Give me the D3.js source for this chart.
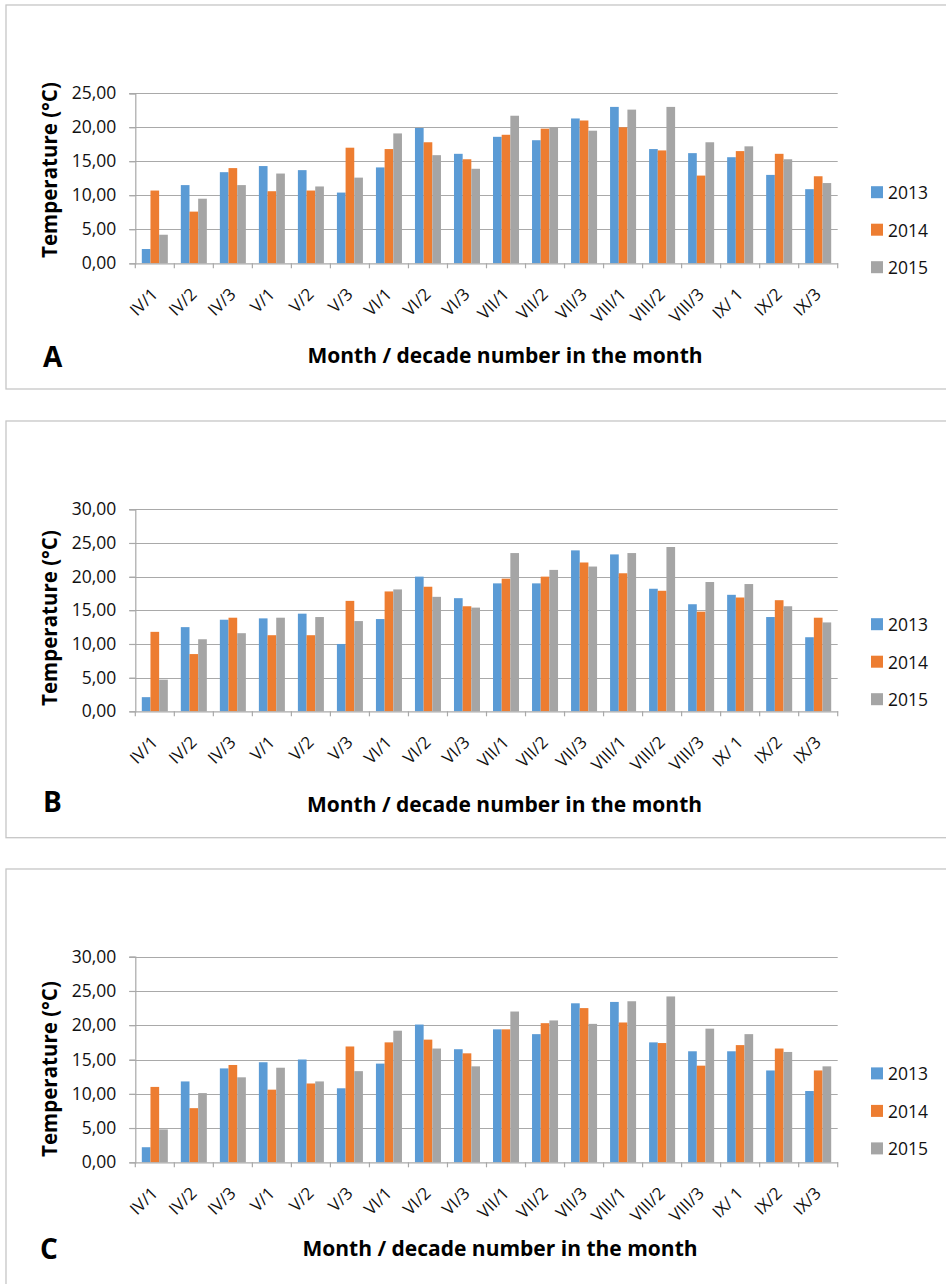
<!DOCTYPE html>
<html>
<head>
<meta charset="utf-8">
<script src="https://cdn.jsdelivr.net/npm/d3@7"></script>
<style>
  html, body { margin: 0; padding: 0; background: #fff; }
  svg { display: block; font-family: "Open Sans", "Noto Sans", sans-serif; }
</style>
</head>
<body>
<svg id="chart" width="946" height="1284"></svg>
<script>
// Ten-day (decade) periods, April to September
const categories = ["IV/1","IV/2","IV/3","V/1","V/2","V/3","VI/1","VI/2","VI/3",
  "VII/1","VII/2","VII/3","VIII/1","VIII/2","VIII/3","IX/ 1","IX/2","IX/3"];
const years = ["2013", "2014", "2015"];

// Panel A – mean decade temperature (°C)
const a2013 = [2.1, 11.5, 13.4, 14.3, 13.7, 10.4, 14.1, 19.9, 16.1, 18.6, 18.1, 21.3, 23.0, 16.8, 16.2, 15.6, 13.0, 10.9];
const a2014 = [10.7, 7.6, 14.0, 10.6, 10.7, 17.0, 16.8, 17.8, 15.3, 18.9, 19.8, 21.0, 20.0, 16.6, 12.9, 16.5, 16.1, 12.8];
const a2015 = [4.2, 9.5, 11.5, 13.2, 11.3, 12.6, 19.1, 15.9, 13.9, 21.7, 20.0, 19.5, 22.6, 23.0, 17.8, 17.2, 15.3, 11.8];

// Panel B
const b2013 = [2.1, 12.5, 13.6, 13.8, 14.5, 10.0, 13.7, 20.0, 16.8, 19.0, 19.0, 23.9, 23.3, 18.2, 15.9, 17.3, 14.0, 11.0];
const b2014 = [11.8, 8.5, 13.9, 11.3, 11.3, 16.4, 17.8, 18.5, 15.6, 19.7, 20.0, 22.1, 20.5, 17.9, 14.8, 16.9, 16.5, 13.9];
const b2015 = [4.7, 10.7, 11.6, 13.9, 14.0, 13.4, 18.1, 17.0, 15.4, 23.5, 21.0, 21.5, 23.5, 24.4, 19.2, 18.9, 15.6, 13.2];

// Panel C
const c2013 = [2.2, 11.8, 13.7, 14.6, 15.0, 10.8, 14.4, 20.1, 16.5, 19.4, 18.7, 23.2, 23.4, 17.5, 16.2, 16.2, 13.4, 10.4];
const c2014 = [11.0, 7.9, 14.2, 10.6, 11.5, 16.9, 17.5, 17.9, 15.9, 19.4, 20.3, 22.5, 20.4, 17.4, 14.1, 17.1, 16.6, 13.4];
const c2015 = [4.8, 10.1, 12.4, 13.8, 11.8, 13.3, 19.2, 16.6, 14.0, 22.0, 20.7, 20.2, 23.5, 24.2, 19.5, 18.7, 16.1, 14.0];

// Axis ticks
const ticksA = [0, 5, 10, 15, 20, 25];
const ticksBC = [0, 5, 10, 15, 20, 25, 30];

const colors = ["#5B9BD5", "#ED7D31", "#A5A5A5"];
const fmt = v => d3.format(".2f")(v).replace(".", ",");

const svg = d3.select("#chart");

// Frame and plot geometry of each panel
const panels = [
  { letter: "A", series: [a2013, a2014, a2015], ticks: ticksA,
    frameTop: 5, frameBottom: 389, plotTop: 93.3, plotBottom: 263.3,
    yTitleCenter: 170, xTitleY: 363, xTitleX: 505, letterX: 43, letterY: 367 },
  { letter: "B", series: [b2013, b2014, b2015], ticks: ticksBC,
    frameTop: 421, frameBottom: 837.7, plotTop: 509.3, plotBottom: 711.3,
    yTitleCenter: 618, xTitleY: 811.5, xTitleX: 504.5, letterX: 43, letterY: 812 },
  { letter: "C", series: [c2013, c2014, c2015], ticks: ticksBC,
    frameTop: 869, frameBottom: 1300, plotTop: 956.7, plotBottom: 1162.3,
    yTitleCenter: 1069, xTitleY: 1255.5, xTitleX: 500, letterX: 40, letterY: 1259 }
];

const plotLeft = 135.3, plotRight = 837.7;

panels.forEach(p => {
  const g = svg.append("g");

  // panel frame
  g.append("rect")
    .attr("x", 6).attr("y", p.frameTop)
    .attr("width", 960).attr("height", p.frameBottom - p.frameTop)
    .attr("fill", "none").attr("stroke", "#c6c6c6").attr("stroke-width", 1.3);

  const yMax = d3.max(p.ticks);
  const y = d3.scaleLinear().domain([0, yMax]).range([p.plotBottom, p.plotTop]);
  const x0 = d3.scaleBand().domain(categories).range([plotLeft, plotRight]).paddingInner(0).paddingOuter(0);
  // three touching bars, with a gap of 1.5 bar widths between groups
  const x1 = d3.scaleBand().domain(years).range([0, x0.bandwidth()]).paddingInner(0).paddingOuter(0.75);

  // horizontal gridlines
  g.append("g").selectAll("line").data(p.ticks.filter(t => t > 0)).join("line")
    .attr("x1", plotLeft - 6).attr("x2", plotRight)
    .attr("y1", d => Math.round(y(d)) + 0.5).attr("y2", d => Math.round(y(d)) + 0.5)
    .attr("stroke", "#a9a9a9").attr("stroke-width", 1.2);

  // y axis
  const yAxis = g.append("g").attr("transform", `translate(${plotLeft},0)`)
    .call(d3.axisLeft(y).tickValues(p.ticks).tickFormat(fmt).tickSize(6).tickPadding(13));
  yAxis.select(".domain").attr("stroke", "#a9a9a9").attr("stroke-width", 1.2);
  yAxis.selectAll(".tick line").attr("stroke", "#a9a9a9").attr("stroke-width", 1.2);
  yAxis.selectAll(".tick text").attr("font-size", 17.5).attr("fill", "#111")
    .attr("font-family", "'Open Sans', sans-serif");

  // bars
  years.forEach((yr, si) => {
    g.append("g").selectAll("rect").data(p.series[si]).join("rect")
      .attr("x", (d, i) => x0(categories[i]) + x1(yr))
      .attr("y", d => y(d))
      .attr("width", x1.bandwidth())
      .attr("height", d => y(0) - y(d))
      .attr("fill", colors[si]);
  });

  // x axis with tick marks at category boundaries
  const xAxis = g.append("g").attr("transform", `translate(0,${p.plotBottom})`)
    .call(d3.axisBottom(x0).tickSize(0).tickFormat(""));
  xAxis.select(".domain").attr("stroke", "#a9a9a9").attr("stroke-width", 1.2);
  const bounds = categories.map(c => x0(c)).concat([plotRight]);
  g.append("g").selectAll("line").data(bounds).join("line")
    .attr("x1", d => d).attr("x2", d => d)
    .attr("y1", p.plotBottom).attr("y2", p.plotBottom + 5)
    .attr("stroke", "#a9a9a9").attr("stroke-width", 1.2);

  // rotated category labels
  g.append("g").selectAll("text").data(categories).join("text")
    .attr("transform", c => `translate(${x0(c) + x0.bandwidth() / 2 + 4},${p.plotBottom + 32}) rotate(-45)`)
    .attr("text-anchor", "end")
    .attr("font-size", 17).attr("fill", "#111")
    .text(c => c);

  // y axis title
  g.append("text")
    .attr("transform", `translate(49,${p.yTitleCenter}) rotate(-90)`)
    .attr("text-anchor", "middle").attr("dominant-baseline", "central")
    .attr("font-size", 20.5).attr("font-weight", "bold").attr("fill", "#000")
    .text("Temperature (°C)");

  // x axis title
  g.append("text")
    .attr("x", p.xTitleX).attr("y", p.xTitleY)
    .attr("text-anchor", "middle")
    .attr("font-size", 21).attr("font-weight", "bold").attr("fill", "#000")
    .text("Month / decade number in the month");

  // panel letter
  g.append("text")
    .attr("x", p.letterX).attr("y", p.letterY)
    .attr("font-size", 28).attr("font-weight", "bold").attr("fill", "#000")
    .text(p.letter);

  // legend
  const legMid = (p.plotTop + p.plotBottom) / 2 + 51.4;
  const leg = g.append("g").selectAll("g").data(years).join("g")
    .attr("transform", (d, i) => `translate(871,${legMid + (i - 1) * 37.5})`);
  leg.append("rect").attr("x", 0).attr("y", -6).attr("width", 12).attr("height", 12)
    .attr("fill", (d, i) => colors[i]);
  leg.append("text").attr("x", 17).attr("y", 0).attr("dominant-baseline", "central")
    .attr("font-size", 17.5).attr("fill", "#111").text(d => d);
});
</script>
</body>
</html>
